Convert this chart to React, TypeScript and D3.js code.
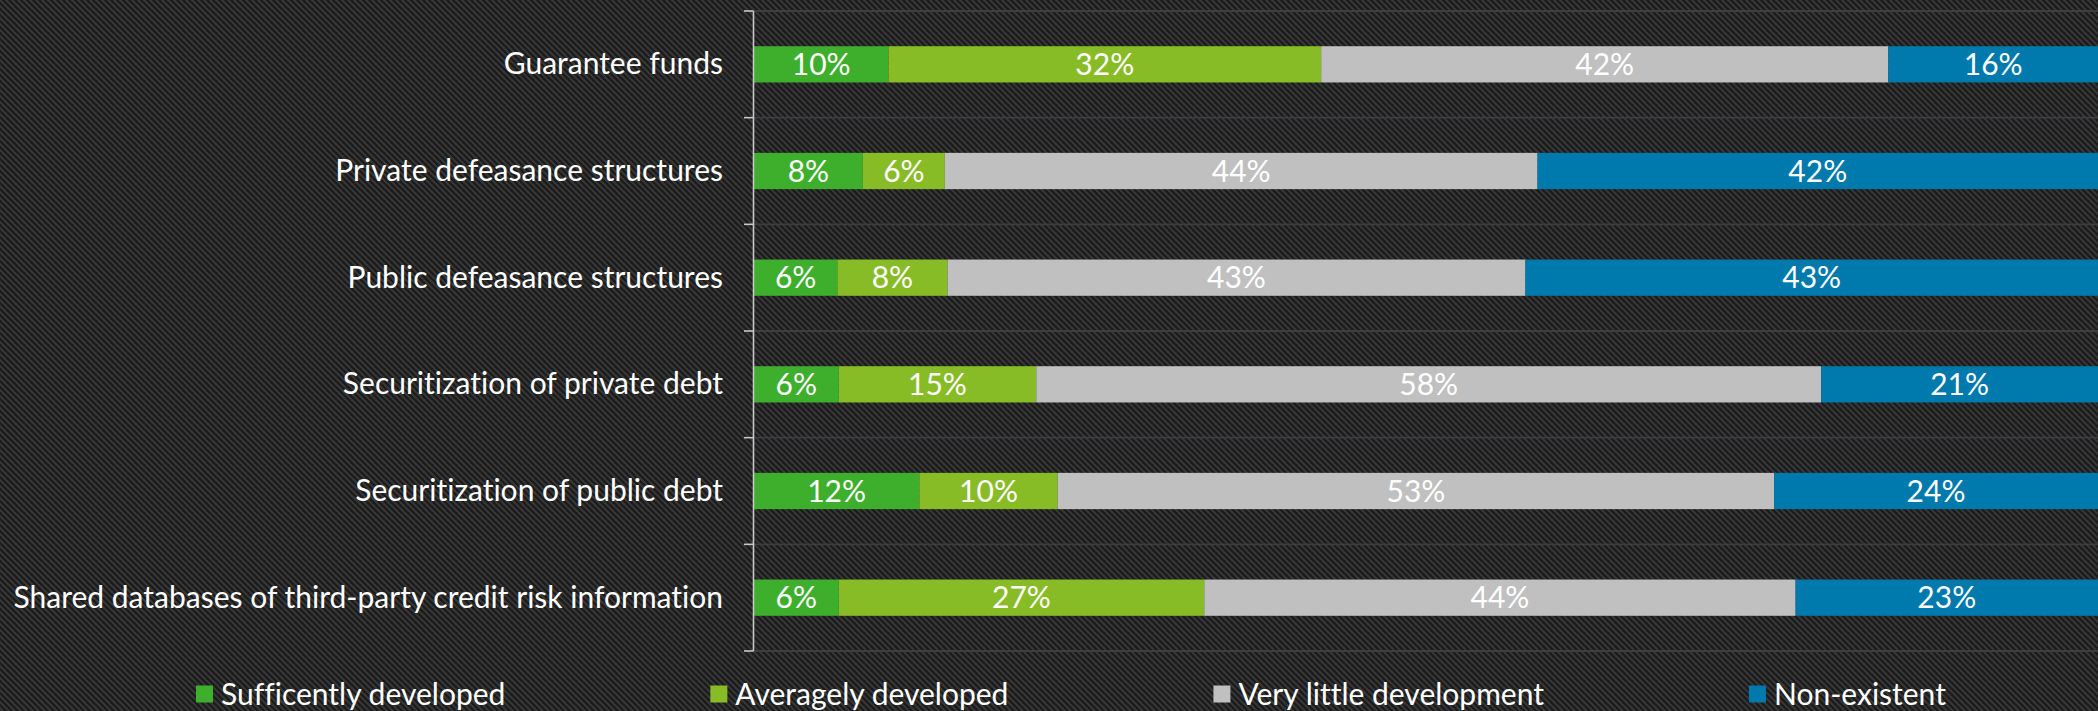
import React, { useEffect, useRef } from "react";
import * as d3 from "d3";

const categories = [
  "Guarantee funds",
  "Private defeasance structures",
  "Public defeasance structures",
  "Securitization of private debt",
  "Securitization of public debt",
  "Shared databases of third-party credit risk information",
];
const seriesNames = [
  "Sufficently developed",
  "Averagely developed",
  "Very little development",
  "Non-existent",
];
const sufficentlyDeveloped = [10.0, 8.1, 6.2, 6.3, 12.3, 6.3];
const averagelyDeveloped = [32.2, 6.1, 8.2, 14.7, 10.3, 27.2];
const veryLittleDevelopment = [42.2, 44.1, 43.0, 58.4, 53.3, 44.0];
const nonExistent = [15.6, 41.7, 42.6, 20.6, 24.1, 22.5];

const W = 2098;
const H = 711;
const COLORS = ["#3daf2c", "#88bc27", "#c0c0c0", "#0079ad"];
const FONT = "Lato, 'Open Sans', sans-serif";
const FS = 30;

export default function App() {
  const ref = useRef<SVGSVGElement | null>(null);

  useEffect(() => {
    const svg = d3.select(ref.current);
    svg.selectAll("*").remove();

    const defs = svg.append("defs");
    const pat = defs
      .append("pattern")
      .attr("id", "carbon")
      .attr("width", 6)
      .attr("height", 6)
      .attr("patternUnits", "userSpaceOnUse");
    pat.append("rect").attr("width", 6).attr("height", 6).attr("fill", "#1a1a1a");
    pat
      .append("path")
      .attr("d", "M-1,-1 L7,7 M-4,2 L2,8 M2,-4 L8,2")
      .attr("stroke", "#373737")
      .attr("stroke-width", 2);

    svg.append("rect").attr("width", W).attr("height", H).attr("fill", "url(#carbon)");

    const plotLeft = 754;
    const plotTop = 11;
    const plotBottom = 651;

    const x = d3.scaleLinear().domain([0, 100]).range([plotLeft, W]);
    const y = d3
      .scaleBand<string>()
      .domain(categories)
      .range([plotTop, plotBottom])
      .paddingInner(0.66)
      .paddingOuter(0.33);

    const boundaries = d3
      .range(categories.length + 1)
      .map((i) => plotTop + i * ((plotBottom - plotTop) / categories.length));
    svg
      .append("g")
      .selectAll("line")
      .data(boundaries)
      .join("line")
      .attr("x1", plotLeft)
      .attr("x2", W)
      .attr("y1", (d) => d)
      .attr("y2", (d) => d)
      .attr("stroke", "#3d3d45")
      .attr("stroke-width", 1.8);

    const table = categories.map((c, i) => ({
      category: c,
      values: [sufficentlyDeveloped[i], averagelyDeveloped[i], veryLittleDevelopment[i], nonExistent[i]],
    }));

    const rows = svg.append("g").selectAll("g").data(table).join("g");

    rows.each(function (row) {
      const g = d3.select(this);
      let acc = 0;
      const segs = row.values.map((v, k) => {
        const s = { start: acc, end: acc + v, v, k };
        acc += v;
        return s;
      });
      const y0 = y(row.category)!;
      const bh = y.bandwidth();
      g.selectAll("rect")
        .data(segs)
        .join("rect")
        .attr("x", (s) => x(s.start))
        .attr("width", (s) => Math.max(0, x(s.end) - x(s.start)))
        .attr("y", y0)
        .attr("height", bh)
        .attr("fill", (s) => COLORS[s.k]);
      g.selectAll("text")
        .data(segs)
        .join("text")
        .attr("x", (s) => (x(s.start) + x(s.end)) / 2)
        .attr("y", y0 + bh / 2)
        .attr("dy", "0.35em")
        .attr("text-anchor", "middle")
        .attr("fill", "#ffffff")
        .attr("font-family", FONT)
        .attr("font-size", FS)
        .style("font-variant-ligatures", "none")
        .text((s) => `${Math.round(s.v)}%`);
    });

    const axisG = svg.append("g");
    axisG
      .append("line")
      .attr("x1", plotLeft - 0.5)
      .attr("x2", plotLeft - 0.5)
      .attr("y1", plotTop)
      .attr("y2", plotBottom)
      .attr("stroke", "#c8c8c8")
      .attr("stroke-width", 1.6);
    axisG
      .selectAll("line.tick")
      .data(boundaries)
      .join("line")
      .attr("class", "tick")
      .attr("x1", plotLeft - 10)
      .attr("x2", plotLeft - 0.5)
      .attr("y1", (d) => d)
      .attr("y2", (d) => d)
      .attr("stroke", "#c8c8c8")
      .attr("stroke-width", 1.6);
    axisG
      .selectAll("text")
      .data(categories)
      .join("text")
      .attr("x", plotLeft - 31)
      .attr("y", (d) => y(d)! + y.bandwidth() / 2)
      .attr("dy", "0.33em")
      .attr("text-anchor", "end")
      .attr("fill", "#ffffff")
      .attr("font-family", FONT)
      .attr("font-size", FS)
      .style("font-variant-ligatures", "none")
      .text((d) => d);

    const legend = svg.append("g");
    let lx = 196;
    const ly = 694;
    seriesNames.forEach((name, k) => {
      legend
        .append("rect")
        .attr("x", lx)
        .attr("y", ly - 8.5)
        .attr("width", 17)
        .attr("height", 17)
        .attr("fill", COLORS[k]);
      const t = legend
        .append("text")
        .attr("x", lx + 25)
        .attr("y", ly)
        .attr("dy", "0.35em")
        .attr("fill", "#ffffff")
        .attr("font-family", FONT)
        .attr("font-size", FS)
        .style("font-variant-ligatures", "none")
        .text(name);
      const tw = (t.node() as SVGTextElement).getComputedTextLength();
      lx = lx + 25 + tw + 205;
    });
  }, []);

  return (
    <svg
      ref={ref}
      width={W}
      height={H}
      style={{ position: "absolute", left: 0, top: 0, display: "block" }}
    />
  );
}
